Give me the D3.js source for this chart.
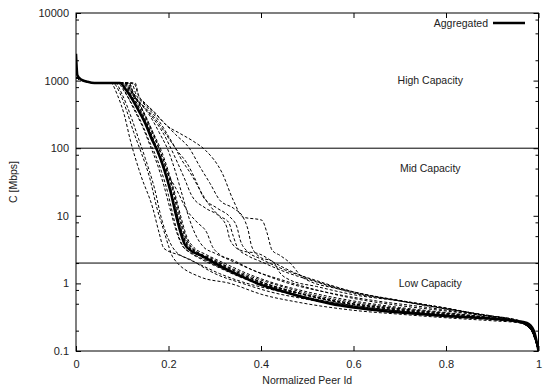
<!DOCTYPE html>
<html>
<head>
<meta charset="utf-8">
<script src="https://cdn.jsdelivr.net/npm/d3@7"></script>
<style>
    body { margin: 0; background: #fff; }
    svg { display: block; font-family: "Liberation Sans", Arial, sans-serif; }
    .axis path { display: none; }
    .axis line { stroke: #000; stroke-width: 1; }
    .axis text { font-size: 11px; fill: #222; }
</style>
</head>
<body>
<svg id="chart" width="545" height="387"></svg>
<script>

// Tick values
const xTicks = [0, 0.2, 0.4, 0.6, 0.8, 1];
const yTicks = [0.1, 1, 10, 100, 1000, 10000];
const yMinorTicks = [0.2, 0.5, 0.8, 2, 5, 8, 20, 50, 80, 200, 500, 800, 2000, 5000, 8000];

// Class boundaries [Mbps]
const thresholds = [100, 2];
const classLabels = ["High Capacity", "Mid Capacity", "Low Capacity"];
const classLabelValues = [1000, 50, 1];

// Aggregated capacity curve: [normalized peer id, C in Mbps]
const aggregated = [[0,2500],[0.003,1200],[0.01,1050],[0.025,960],[0.04,920],[0.095,920],[0.11,700],[0.13,420],[0.15,230],[0.165,130],[0.175,95],[0.19,50],[0.205,22],[0.215,11],[0.225,6],[0.235,3.8],[0.25,3.0],[0.27,2.6],[0.3,2.0],[0.35,1.35],[0.4,0.95],[0.45,0.75],[0.5,0.6],[0.55,0.5],[0.6,0.44],[0.65,0.4],[0.7,0.37],[0.8,0.33],[0.9,0.3],[0.95,0.28],[0.975,0.26],[0.99,0.2],[1,0.1]];

// Individual runs (dashed)
const head = [[0,1100],[0.01,1040],[0.025,960],[0.04,920]];
const runL1 = [[0.075,920],[0.09,600],[0.105,300],[0.117,135],[0.14,40],[0.166,13],[0.18,5.5],[0.19,3.3],[0.225,2.6],[0.268,1.9],[0.31,1.4],[0.36,1.05],[0.42,0.82],[0.5,0.62],[0.6,0.46],[0.7,0.38],[0.8,0.33],[0.9,0.3],[0.96,0.27],[0.985,0.22],[1,0.1]];
const runL2 = [[0.08,920],[0.095,650],[0.11,350],[0.125,170],[0.14,90],[0.16,35],[0.175,13],[0.19,6],[0.2,3.6],[0.21,2.4],[0.268,1.25],[0.333,1.0],[0.404,0.68],[0.478,0.53],[0.6,0.4],[0.7,0.35],[0.8,0.31],[0.9,0.28],[0.96,0.26],[0.985,0.2],[1,0.1]];
const runL3 = [[0.085,920],[0.1,620],[0.12,280],[0.135,140],[0.15,70],[0.17,25],[0.185,9],[0.2,4.5],[0.215,3.0],[0.25,2.2],[0.3,1.4],[0.36,1.0],[0.42,0.75],[0.5,0.58],[0.6,0.44],[0.7,0.37],[0.8,0.32],[0.9,0.29],[0.96,0.26],[0.985,0.2],[1,0.1]];
const runM1 = [[0.09,920],[0.105,680],[0.125,400],[0.145,210],[0.16,120],[0.17,85],[0.185,45],[0.2,20],[0.21,10],[0.22,5.5],[0.232,3.5],[0.25,2.8],[0.28,2.2],[0.33,1.5],[0.4,1.0],[0.5,0.66],[0.6,0.5],[0.7,0.42],[0.8,0.36],[0.9,0.31],[0.96,0.27],[0.985,0.21],[1,0.1]];
const runM2 = [[0.095,920],[0.11,700],[0.13,420],[0.15,240],[0.165,140],[0.18,80],[0.195,40],[0.21,17],[0.222,8],[0.235,4.2],[0.25,3.1],[0.27,2.5],[0.3,1.9],[0.35,1.3],[0.42,0.9],[0.5,0.62],[0.6,0.46],[0.7,0.39],[0.8,0.34],[0.9,0.3],[0.96,0.27],[0.985,0.2],[1,0.1]];
const runM3 = [[0.1,920],[0.115,680],[0.135,380],[0.155,200],[0.17,110],[0.185,60],[0.2,30],[0.215,13],[0.228,6],[0.24,3.8],[0.26,2.9],[0.29,2.3],[0.33,1.6],[0.38,1.15],[0.45,0.82],[0.55,0.56],[0.65,0.44],[0.75,0.37],[0.85,0.32],[0.93,0.29],[0.97,0.26],[0.99,0.18],[1,0.1]];
const runM4 = [[0.1,920],[0.12,650],[0.14,350],[0.16,180],[0.175,100],[0.19,55],[0.205,25],[0.218,11],[0.23,5.5],[0.245,3.5],[0.265,2.8],[0.3,2.1],[0.35,1.45],[0.4,1.05],[0.48,0.72],[0.57,0.52],[0.66,0.42],[0.76,0.36],[0.86,0.31],[0.94,0.28],[0.975,0.25],[1,0.1]];
const runM5 = [[0.105,920],[0.12,700],[0.14,400],[0.16,200],[0.18,95],[0.195,50],[0.21,22],[0.222,10],[0.235,5],[0.25,3.4],[0.275,2.6],[0.31,2.0],[0.36,1.35],[0.42,0.95],[0.5,0.68],[0.6,0.5],[0.7,0.41],[0.8,0.35],[0.9,0.3],[0.96,0.27],[0.985,0.2],[1,0.1]];
const runM6 = [[0.11,920],[0.125,650],[0.145,360],[0.165,180],[0.185,90],[0.2,45],[0.215,20],[0.228,9],[0.24,4.8],[0.255,3.4],[0.28,2.7],[0.32,2.0],[0.37,1.4],[0.43,1.0],[0.5,0.75],[0.6,0.55],[0.7,0.44],[0.8,0.37],[0.9,0.31],[0.96,0.27],[0.985,0.2],[1,0.1]];
const runM7 = [[0.095,920],[0.108,650],[0.125,380],[0.145,200],[0.16,110],[0.175,60],[0.19,28],[0.203,13],[0.215,6.5],[0.228,3.8],[0.245,2.9],[0.27,2.3],[0.31,1.7],[0.36,1.2],[0.42,0.88],[0.5,0.62],[0.6,0.47],[0.7,0.39],[0.8,0.34],[0.9,0.3],[0.96,0.27],[0.985,0.2],[1,0.1]];
const runM8 = [[0.105,920],[0.118,720],[0.138,430],[0.158,230],[0.175,120],[0.19,65],[0.205,32],[0.218,15],[0.23,7],[0.243,4],[0.26,3.0],[0.29,2.4],[0.33,1.75],[0.38,1.25],[0.44,0.92],[0.52,0.66],[0.62,0.5],[0.72,0.41],[0.82,0.35],[0.91,0.3],[0.965,0.26],[0.99,0.18],[1,0.1]];
const runN1 = [[0.11,920],[0.122,620],[0.14,450],[0.16,300],[0.18,170],[0.2,90],[0.215,45],[0.23,20],[0.245,9],[0.26,5],[0.275,3.5],[0.3,2.8],[0.34,2.1],[0.4,1.4],[0.46,1.0],[0.55,0.72],[0.65,0.55],[0.75,0.45],[0.85,0.36],[0.93,0.3],[0.97,0.26],[0.99,0.18],[1,0.1]];
const runN2 = [[0.115,920],[0.125,600],[0.145,420],[0.17,260],[0.19,160],[0.205,100],[0.22,60],[0.235,35],[0.25,20],[0.28,13],[0.311,9.6],[0.326,6.8],[0.333,4.4],[0.355,3.1],[0.398,2.7],[0.43,2.0],[0.5,1.2],[0.6,0.75],[0.7,0.55],[0.8,0.42],[0.88,0.34],[0.95,0.28],[0.985,0.21],[1,0.1]];
const runN3 = [[0.105,920],[0.118,620],[0.135,420],[0.155,220],[0.17,120],[0.182,74],[0.2,40],[0.218,24],[0.24,12],[0.262,8],[0.283,5.6],[0.295,3.5],[0.31,2.7],[0.34,2.2],[0.38,1.6],[0.45,1.1],[0.52,0.8],[0.6,0.6],[0.7,0.47],[0.8,0.39],[0.9,0.32],[0.96,0.27],[0.985,0.2],[1,0.1]];
const runR1 = [[0.128,920],[0.135,620],[0.15,460],[0.17,340],[0.195,220],[0.225,165],[0.255,125],[0.28,93],[0.316,43],[0.34,17],[0.361,9.6],[0.402,8.6],[0.413,5.6],[0.424,3.1],[0.441,2.6],[0.463,2.0],[0.489,1.24],[0.506,1.07],[0.56,0.85],[0.64,0.65],[0.72,0.53],[0.8,0.43],[0.88,0.34],[0.95,0.28],[0.985,0.21],[1,0.1]];
const runR2 = [[0.125,920],[0.135,600],[0.155,420],[0.185,260],[0.215,160],[0.245,100],[0.268,53],[0.29,30],[0.311,17],[0.34,13],[0.361,9.6],[0.372,6.2],[0.38,3.5],[0.398,2.45],[0.426,2.1],[0.441,1.43],[0.463,1.12],[0.52,0.9],[0.6,0.68],[0.7,0.55],[0.8,0.43],[0.88,0.34],[0.95,0.28],[0.985,0.21],[1,0.1]];
const runR3 = [[0.12,920],[0.13,620],[0.15,430],[0.18,250],[0.2,150],[0.215,100],[0.225,74],[0.253,37],[0.268,24],[0.29,14],[0.31,10],[0.33,8],[0.34,5],[0.35,3.3],[0.37,2.6],[0.4,2.1],[0.45,1.5],[0.52,1.05],[0.6,0.72],[0.7,0.55],[0.8,0.42],[0.9,0.33],[0.96,0.28],[0.985,0.21],[1,0.1]];
const runR4 = [[0.115,920],[0.125,620],[0.145,430],[0.17,280],[0.19,180],[0.203,132],[0.22,90],[0.24,60],[0.262,30],[0.275,19],[0.305,13],[0.333,9.6],[0.348,6.8],[0.355,4.4],[0.37,3.0],[0.4,2.3],[0.45,1.6],[0.52,1.1],[0.6,0.75],[0.7,0.56],[0.8,0.43],[0.88,0.34],[0.95,0.28],[0.985,0.21],[1,0.1]];

const runs = [runL1, runL2, runL3, runM1, runM2, runM3, runM4, runM5, runM6, runM7, runM8,
              runN1, runN2, runN3, runR1, runR2, runR3, runR4];

// Layout
const margin = {left: 76, right: 6.5, top: 13, bottom: 36};
const width = 545, height = 387;

const svg = d3.select("#chart");

const x = d3.scaleLinear().domain([0, 1]).range([margin.left, width - margin.right]);
const y = d3.scaleLog().domain([0.1, 10000]).range([height - margin.bottom, margin.top]);

// Clip to plot area
svg.append("clipPath").attr("id", "plotclip")
    .append("rect")
    .attr("x", x(0)).attr("y", y(10000))
    .attr("width", x(1) - x(0)).attr("height", y(0.1) - y(10000));

const line = d3.line()
    .x(d => x(d[0]))
    .y(d => y(d[1]))
    .curve(d3.curveMonotoneX);

const plot = svg.append("g").attr("clip-path", "url(#plotclip)");

// Class threshold lines
plot.selectAll(".threshold")
    .data(thresholds)
    .join("line")
    .attr("x1", x(0)).attr("x2", x(1))
    .attr("y1", d => y(d)).attr("y2", d => y(d))
    .attr("stroke", "#000").attr("stroke-width", 1);

// Dashed runs
plot.selectAll(".run")
    .data(runs)
    .join("path")
    .attr("class", "run")
    .attr("fill", "none")
    .attr("stroke", "#000")
    .attr("stroke-width", 1)
    .attr("stroke-dasharray", "3,2")
    .attr("d", d => line(head.concat(d)));

// Aggregated curve
plot.append("path")
    .datum(aggregated)
    .attr("fill", "none")
    .attr("stroke", "#000")
    .attr("stroke-width", 2.5)
    .attr("d", line);

// Axes
svg.append("g").attr("class", "axis")
    .attr("transform", `translate(${x(0)},0)`)
    .call(d3.axisLeft(y).tickValues(yTicks).tickSize(-5).tickPadding(7).tickFormat(d3.format("")));
svg.append("g").attr("class", "axis")
    .attr("transform", `translate(${x(0)},0)`)
    .call(d3.axisLeft(y).tickValues(yMinorTicks).tickSize(-3).tickFormat(""));
svg.append("g").attr("class", "axis")
    .attr("transform", `translate(${x(1)},0)`)
    .call(d3.axisRight(y).tickValues(yTicks).tickSize(-5).tickFormat(""));
svg.append("g").attr("class", "axis")
    .attr("transform", `translate(${x(1)},0)`)
    .call(d3.axisRight(y).tickValues(yMinorTicks).tickSize(-3).tickFormat(""));
svg.append("g").attr("class", "axis")
    .attr("transform", `translate(0,${y(0.1)})`)
    .call(d3.axisBottom(x).tickValues(xTicks).tickSize(-5).tickPadding(9).tickFormat(d3.format("")));
svg.append("g").attr("class", "axis")
    .attr("transform", `translate(0,${y(10000)})`)
    .call(d3.axisTop(x).tickValues(xTicks).tickSize(-5).tickFormat(""));

// Frame
svg.append("rect")
    .attr("x", x(0)).attr("y", y(10000))
    .attr("width", x(1) - x(0)).attr("height", y(0.1) - y(10000))
    .attr("fill", "none").attr("stroke", "#000").attr("stroke-width", 1);

// Class labels
svg.selectAll(".classlabel")
    .data(classLabels)
    .join("text")
    .attr("x", x(0.766))
    .attr("y", (d, i) => y(classLabelValues[i]))
    .attr("dy", "0.35em")
    .attr("text-anchor", "middle")
    .style("font-size", "10.5px")
    .attr("fill", "#222")
    .text(d => d);

// Axis titles
svg.append("text")
    .attr("x", (x(0) + x(1)) / 2)
    .attr("y", 384)
    .attr("text-anchor", "middle")
    .style("font-size", "10.5px")
    .attr("fill", "#222")
    .text("Normalized Peer Id");
svg.append("text")
    .attr("transform", `translate(17,${(y(0.1) + y(10000)) / 2}) rotate(-90)`)
    .attr("text-anchor", "middle")
    .style("font-size", "10.5px")
    .attr("fill", "#222")
    .text("C [Mbps]");

// Legend
svg.append("text")
    .attr("x", 488).attr("y", 23)
    .attr("dy", "0.35em")
    .attr("text-anchor", "end")
    .style("font-size", "10.5px")
    .attr("fill", "#222")
    .text("Aggregated");
svg.append("line")
    .attr("x1", 493).attr("x2", 525)
    .attr("y1", 23).attr("y2", 23)
    .attr("stroke", "#000").attr("stroke-width", 2.5);

</script>
</body>
</html>
